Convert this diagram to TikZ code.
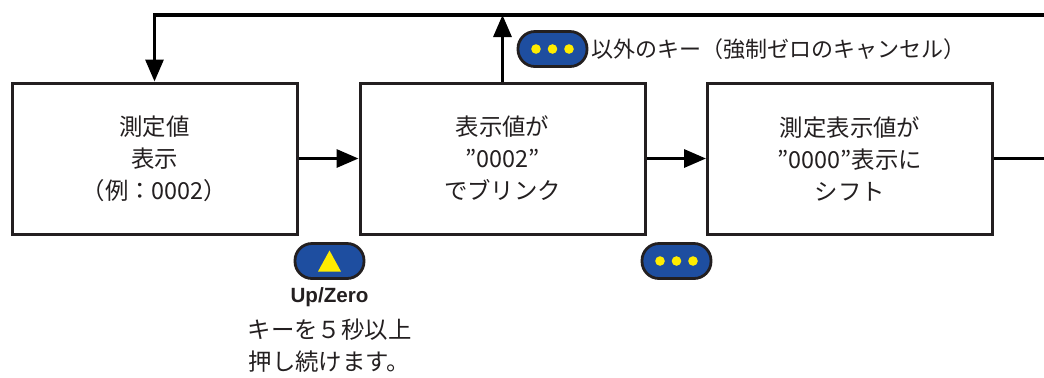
\documentclass[tikz,border=0pt]{standalone}
\usepackage{fontspec}
\setmainfont{Noto Sans CJK JP}
\newfontfamily\keyfont{Liberation Sans}
\usetikzlibrary{arrows.meta,positioning,calc}

\definecolor{keyblue}{RGB}{30,78,160}
\definecolor{keyyellow}{RGB}{255,236,0}
\definecolor{ink}{RGB}{35,31,32}

\tikzset{
    stepbox/.style={draw=ink,line width=1.5pt,minimum width=142.5pt,
        minimum height=75.5pt,align=center,text=ink,
        font=\fontsize{11.7}{16}\selectfont},
    keybox/.style={draw=ink,fill=keyblue,line width=1.4pt,
        rounded corners=8.5pt,minimum width=34.5pt,minimum height=17.5pt},
    flow/.style={draw=black,line width=1.6pt},
    arr/.style={flow,-{Triangle[length=11pt,width=9pt]}},
}

\begin{document}
\begin{tikzpicture}[x=0.5pt,y=-0.5pt]
    \useasboundingbox (0,0) rectangle (1044,377);

    % the three states
    \node[stepbox] (measure) at (154.5,158.5) {測定値\\表示\\（例：0002）};
    \node[stepbox] (blink) at (502.5,158.5) {表示値が\\”0002”\\でブリンク};
    \node[stepbox] (shift) at (850,158.5) {測定表示値が\\”0000”表示に\\シフト};

    \coordinate (topR) at (1044,15);
    \coordinate (outR) at (1044,158.5);

    \draw[arr] (measure) -- (blink);
    \draw[arr] (blink) -- (shift);
    \draw[flow] (shift) -- (outR);
    \draw[arr] (topR) -- (measure.north |- topR) -- (measure.north);
    \draw[arr] (blink.north) -- (blink.north |- topR);

    % keys
    \node[keybox] (keyUp) at (329.5,261) {};
    \node[keybox] (keyDots) at (676.5,261) {};
    \node[keybox] (keyOther) at (552.5,49) {};

    \fill[keyyellow] ($(keyUp)+(-11.5,10.5)$) -- ($(keyUp)+(11.5,10.5)$)
        -- ($(keyUp)+(0,-10.5)$) -- cycle;
    \foreach \k in {keyDots,keyOther}{
        \foreach \dx in {-16.5,0,16.5}
            \fill[keyyellow] ($(\k)+(\dx,0)$) circle[radius=4.8];
    }

    \node[right=0pt of keyOther,inner sep=1.5pt,text=ink,
        font=\fontsize{11}{13}\selectfont] (otherText)
        {以外のキー（強制ゼロのキャンセル）};

    \node[text=ink,font=\keyfont\bfseries\fontsize{10.3}{12}\selectfont]
        (upLabel) at (329.5,297) {Up/Zero};
    \node[below=-1pt of upLabel,align=center,text=ink,
        font=\fontsize{11.7}{16}\selectfont] (upText)
        {キーを５秒以上\\押し続けます。};
\end{tikzpicture}
\end{document}
